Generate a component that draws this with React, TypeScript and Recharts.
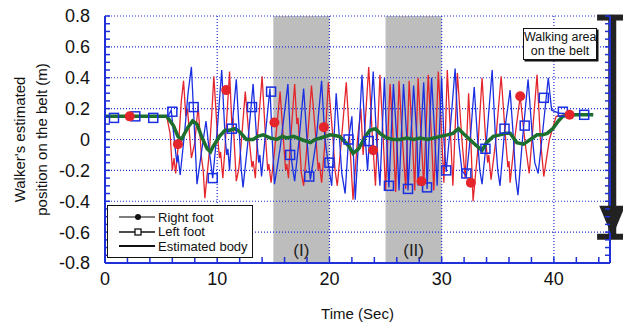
import React from 'react';
import {
  ComposedChart,
  Line,
  Scatter,
  XAxis,
  YAxis,
  ReferenceArea,
  ReferenceLine,
  ReferenceDot,
  Label,
} from 'recharts';

// [time (s), position (m)]
const rightFoot: [number, number][] = [
  [0, 0.15], [5.5, 0.15], [5.8, 0.04], [6.0, -0.2], [6.15, -0.12], [6.3, -0.22], [6.6, 0.02], [6.8, 0.25],
  [7.0, 0.38], [7.2, 0.15], [7.35, 0.2], [7.7, -0.12], [8.0, -0.02], [8.3, 0.22], [8.6, -0.12], [8.75, -0.2],
  [8.9, -0.38], [9.3, -0.08], [9.5, 0.15], [9.7, 0.41], [10.0, 0.05], [10.2, -0.12], [10.3, -0.08], [10.5, -0.25],
  [10.7, -0.05], [11.1, 0.44], [11.3, 0.1], [11.4, 0.14], [11.7, -0.27], [11.9, -0.2], [12.1, -0.06], [12.5, 0.31],
  [12.9, -0.04], [13.1, -0.18], [13.2, -0.14], [13.4, -0.25], [13.6, 0.04], [14.0, 0.41], [14.3, 0.02], [14.5, -0.2],
  [14.6, -0.16], [14.8, -0.28], [15.1, -0.08], [15.6, 0.31], [15.9, 0.0], [16.1, -0.2], [16.2, -0.16], [16.35, -0.25],
  [16.5, -0.04], [16.9, 0.36], [17.1, 0.1], [17.2, 0.14], [17.5, -0.22], [17.7, -0.3], [18.0, -0.04], [18.4, 0.35],
  [18.8, 0.0], [19.0, -0.2], [19.1, -0.15], [19.3, -0.28], [19.6, -0.02], [19.9, 0.37], [20.3, 0.02], [20.5, -0.2],
  [20.7, -0.3], [21.0, -0.06], [21.5, 0.37], [21.8, 0.0], [22.1, -0.39], [22.5, 0.0], [22.8, 0.2], [23.0, -0.1],
  [23.5, 0.47], [23.8, 0.05], [24.1, -0.3], [24.5, 0.42], [24.8, 0.0], [25.0, -0.33], [25.4, 0.36], [25.7, -0.02],
  [25.9, -0.34], [26.2, 0.38], [26.5, 0.0], [26.8, -0.32], [27.1, 0.38], [27.4, 0.0], [27.6, -0.33], [27.9, 0.4],
  [28.2, -0.02], [28.4, -0.3], [28.8, 0.42], [29.1, 0.0], [29.3, -0.33], [29.7, 0.44], [30.0, 0.02], [30.2, -0.28],
  [30.5, 0.45], [30.8, 0.02], [31.0, -0.3], [31.4, 0.43], [31.8, 0.0], [32.1, -0.25], [32.4, 0.3], [32.6, 0.0],
  [32.8, -0.4], [33.2, -0.08], [33.6, 0.4], [33.9, 0.02], [34.1, -0.15], [34.2, -0.1], [34.4, -0.26], [34.8, -0.02],
  [35.3, 0.41], [35.7, 0.0], [35.9, -0.18], [36.0, -0.14], [36.1, -0.28], [36.5, 0.0], [37.0, 0.28], [37.4, 0.0],
  [37.8, -0.22], [38.1, 0.05], [38.5, 0.42], [38.8, 0.0], [39.1, -0.24], [39.6, 0.0], [40.2, 0.15], [41.0, 0.16],
  [43.5, 0.16],
];

const leftFoot: [number, number][] = [
  [0, 0.15], [5.6, 0.15], [5.9, 0.19], [6.2, -0.02], [6.4, -0.15], [6.5, -0.1], [6.7, -0.23], [7.1, 0.05],
  [7.4, 0.3], [7.7, 0.47], [8.0, 0.02], [8.2, -0.29], [8.6, -0.08], [9.0, 0.12], [9.3, -0.08], [9.6, -0.25],
  [10.0, 0.06], [10.4, 0.45], [10.7, 0.02], [10.85, -0.1], [10.95, -0.06], [11.1, -0.2], [11.3, 0.06], [11.7, 0.39],
  [12.0, 0.0], [12.15, -0.2], [12.3, -0.31], [12.7, -0.04], [13.2, 0.36], [13.5, 0.02], [13.7, -0.15], [13.8, -0.1],
  [13.95, -0.24], [14.3, 0.04], [14.7, 0.33], [14.9, 0.0], [15.1, -0.29], [15.3, -0.2], [15.6, -0.06], [16.3, 0.36],
  [16.6, -0.12], [16.75, -0.2], [16.9, -0.27], [17.3, 0.0], [17.7, 0.33], [18.0, 0.0], [18.15, -0.15], [18.3, -0.26],
  [18.8, -0.02], [19.3, 0.38], [19.6, 0.0], [19.9, -0.16], [20.2, -0.3], [20.6, 0.3], [20.9, 0.0], [21.1, -0.22],
  [21.4, -0.35], [21.7, 0.0], [22.0, 0.15], [22.3, -0.39], [22.6, 0.0], [22.9, 0.42], [23.2, 0.0], [23.4, -0.2],
  [23.9, 0.44], [24.2, 0.0], [24.5, -0.3], [24.9, 0.4], [25.1, 0.0], [25.3, -0.31], [25.7, 0.36], [26.0, 0.0],
  [26.2, -0.33], [26.6, 0.36], [26.9, 0.0], [27.0, -0.33], [27.5, 0.35], [27.8, 0.0], [27.9, -0.3], [28.4, 0.37],
  [28.6, 0.0], [28.7, -0.32], [29.1, 0.4], [29.4, 0.0], [29.6, -0.3], [30.0, 0.4], [30.2, 0.0], [30.4, -0.21],
  [30.8, 0.1], [31.2, 0.46], [31.5, 0.0], [31.8, -0.2], [32.2, -0.24], [32.6, 0.05], [32.9, 0.34], [33.2, 0.0],
  [33.4, -0.2], [33.6, -0.29], [34.0, 0.0], [34.5, 0.45], [34.8, 0.0], [35.0, -0.2], [35.2, -0.3], [35.6, 0.05],
  [36.1, 0.32], [36.4, 0.0], [36.6, -0.25], [36.8, -0.36], [37.2, 0.0], [37.7, 0.39], [38.1, 0.0], [38.3, -0.15],
  [38.6, -0.22], [39.0, 0.05], [39.5, 0.4], [39.8, 0.19], [40.5, 0.17], [43.5, 0.16],
];

const estimatedBody: [number, number][] = [
  [0, 0.15], [5.5, 0.15], [6.1, 0.09], [6.5, 0.02], [6.8, 0.0], [7.4, 0.08], [7.8, 0.12], [8.2, 0.1],
  [8.6, 0.02], [9.1, -0.06], [9.4, -0.08], [9.6, -0.05], [10.2, 0.02], [10.7, 0.06], [11.1, 0.06], [11.6, 0.07],
  [12.0, 0.05], [12.6, 0.0], [13.2, 0.0], [13.6, 0.02], [14.1, 0.03], [14.7, 0.01], [15.3, 0.0], [15.8, 0.02],
  [16.2, 0.01], [16.8, 0.02], [17.5, 0.0], [18.3, -0.02], [18.7, 0.0], [19.2, 0.01], [20.1, 0.03], [20.9, 0.02],
  [21.7, -0.04], [22.1, -0.09], [22.6, -0.06], [23.2, 0.02], [23.6, 0.06], [24.1, 0.07], [24.5, 0.04], [25.1, 0.01],
  [25.7, 0.0], [26.3, 0.0], [26.9, 0.01], [27.5, 0.0], [28.1, 0.01], [28.7, 0.0], [29.3, 0.01], [29.9, 0.02],
  [30.5, 0.03], [31.0, 0.04], [31.5, 0.07], [31.9, 0.04], [32.5, 0.0], [33.1, -0.04], [33.6, -0.07], [34.0, -0.02],
  [34.6, 0.02], [35.2, 0.03], [35.7, 0.04], [36.1, 0.04], [36.7, -0.02], [37.3, -0.03], [37.9, 0.0], [38.5, 0.03],
  [39.0, 0.03], [39.4, 0.04], [39.9, 0.07], [40.4, 0.12], [40.8, 0.15], [41.4, 0.16], [43.5, 0.16],
];

const rightFootMarks: [number, number][] = [
  [2.2, 0.15], [6.5, -0.03], [10.8, 0.32], [15.1, 0.11], [19.5, 0.08], [23.9, -0.07],
  [28.2, -0.27], [32.6, -0.28], [37.0, 0.28], [41.4, 0.16],
];

const leftFootMarks: [number, number][] = [
  [0.8, 0.14], [2.7, 0.15], [4.3, 0.14], [6.0, 0.18], [7.9, 0.21], [9.6, -0.25], [11.3, 0.07],
  [13.1, 0.21], [14.8, 0.31], [16.5, -0.1], [18.2, -0.24], [20.0, -0.15], [21.7, 0.0], [23.5, -0.01],
  [25.3, -0.3], [27.0, -0.32], [28.7, -0.31], [30.4, -0.2], [32.2, -0.22], [33.9, -0.06], [35.6, 0.07],
  [37.4, 0.09], [39.1, 0.27], [40.8, 0.18], [42.7, 0.16],
];

const xTicks = [0, 2, 4, 6, 8, 10, 12, 14, 16, 18, 20, 22, 24, 26, 28, 30, 32, 34, 36, 38, 40, 42, 44];
const xGrid = [10, 20, 30, 40];
const yTicks = [
  -0.8, -0.75, -0.7, -0.65, -0.6, -0.55, -0.5, -0.45, -0.4, -0.35, -0.3, -0.25, -0.2, -0.15, -0.1, -0.05, 0,
  0.05, 0.1, 0.15, 0.2, 0.25, 0.3, 0.35, 0.4, 0.45, 0.5, 0.55, 0.6, 0.65, 0.7, 0.75, 0.8,
];
const yGrid = [-0.6, -0.4, -0.2, 0, 0.2, 0.4, 0.6, 0.8];
const phases = [
  { from: 15, to: 20, name: '(I)' },
  { from: 25, to: 30, name: '(II)' },
];
const walkingArea = { x: 45.2, top: 0.79, bottom: -0.63, capFrom: 43.85, capTo: 46.3 };

const toRows = (pts: [number, number][]) => pts.map(([t, v]) => ({ t, v }));

const AXIS = '#1f30d8';
const RED = '#e4262c';
const BLUE = '#1b2fe2';
const GREEN = '#1c6f2c';
const FONT = '"Liberation Sans", Arial, sans-serif';

const XTick = ({ x, y, payload }: any) => {
  const v = payload.value;
  return (
    <g>
      <line x1={x} y1={y} x2={x} y2={y - 6} stroke={AXIS} strokeWidth={1.5} />
      {v % 10 === 0 && (
        <text x={x} y={y + 22} textAnchor="middle" fontSize={18} fill="#111" fontFamily={FONT}>
          {v}
        </text>
      )}
    </g>
  );
};

const fmtY = (v: number) => {
  const s = v.toFixed(1);
  return s === '0.0' || s === '-0.0' ? '0' : s;
};

const YTickLeft = ({ x, y, payload }: any) => {
  const v = payload.value;
  const major = Math.round(v * 100) % 20 === 0;
  return (
    <g>
      <line x1={x} y1={y} x2={x + 5} y2={y} stroke={AXIS} strokeWidth={1.5} />
      {major && (
        <text x={x - 15} y={y} dy="0.36em" textAnchor="end" fontSize={18} fill="#111" fontFamily={FONT}>
          {fmtY(v)}
        </text>
      )}
    </g>
  );
};

const YTickRight = ({ x, y }: any) => (
  <line x1={x} y1={y} x2={x - 5} y2={y} stroke={AXIS} strokeWidth={1.5} />
);

const YTitle = ({ viewBox }: any) => {
  const cy = viewBox.y + viewBox.height / 2;
  return (
    <g fontFamily={FONT} fontSize={15} fill="#111">
      <text x={25} y={cy} textAnchor="middle" transform={`rotate(-90 25 ${cy})`}>
        Walker's estimated
      </text>
      <text x={47} y={cy} textAnchor="middle" transform={`rotate(-90 47 ${cy})`}>
        position on the belt (m)
      </text>
    </g>
  );
};

const Square = ({ cx, cy }: any) => (
  <rect x={cx - 4.5} y={cy - 4.5} width={9} height={9} fill="none" stroke={BLUE} strokeWidth={1.5} />
);

const Dot = ({ cx, cy }: any) => <circle cx={cx} cy={cy} r={5} fill={RED} />;

const ArrowHead = ({ cx, cy }: any) => (
  <polygon points={`${cx - 13},${cy - 31} ${cx + 13},${cy - 31} ${cx},${cy}`} fill="#222" />
);

const LegendRow = ({ kind, text }: { kind: 'dot' | 'square' | 'line'; text: string }) => (
  <div style={{ display: 'flex', alignItems: 'center', height: 14.5, whiteSpace: 'nowrap' }}>
    <svg width={36} height={10} style={{ marginLeft: 11, marginRight: 3, flex: 'none' }}>
      <line x1={0} y1={5} x2={36} y2={5} stroke={kind === 'dot' ? '#555' : '#111'} strokeWidth={kind === 'line' ? 2 : 1.3} />
      {kind === 'dot' && <circle cx={19} cy={5} r={3} fill="#111" />}
      {kind === 'square' && <rect x={16} y={2} width={6} height={6} fill="#fff" stroke="#111" strokeWidth={1.3} />}
    </svg>
    <span>{text}</span>
  </div>
);

export default function App() {
  return (
    <div style={{ position: 'absolute', left: 0, top: 0, width: 623, height: 325, fontFamily: FONT }}>
      <ComposedChart width={623} height={325} margin={{ top: 16, right: 12, left: 0, bottom: 0 }}>
        <XAxis
          dataKey="t"
          type="number"
          domain={[0, 45]}
          ticks={xTicks}
          interval={0}
          tickSize={0}
          tickMargin={0}
          tick={<XTick />}
          height={62}
          axisLine={{ stroke: AXIS, strokeWidth: 2 }}
          allowDataOverflow
        >
          <Label value="Time (Sec)" position="insideBottom" offset={6} fontSize={15} fill="#111" fontFamily={FONT} />
        </XAxis>
        <YAxis
          yAxisId="left"
          dataKey="v"
          type="number"
          domain={[-0.8, 0.8]}
          ticks={yTicks}
          interval={0}
          tickSize={0}
          tickMargin={0}
          tick={<YTickLeft />}
          width={105}
          axisLine={{ stroke: AXIS, strokeWidth: 2 }}
          allowDataOverflow
        >
          <Label content={<YTitle />} />
        </YAxis>
        <YAxis
          yAxisId="right"
          orientation="right"
          type="number"
          domain={[-0.8, 0.8]}
          ticks={yTicks}
          interval={0}
          tickSize={0}
          tickMargin={0}
          tick={<YTickRight />}
          width={1}
          axisLine={{ stroke: AXIS, strokeWidth: 2 }}
          allowDataOverflow
        />

        {phases.map((p) => (
          <ReferenceArea
            key={p.name}
            yAxisId="left"
            x1={p.from}
            x2={p.to}
            y1={-0.8}
            y2={0.8}
            fill="#bdbdbd"
            fillOpacity={1}
            stroke="none"
            label={{ value: p.name, position: 'insideBottom', offset: 7, fontSize: 17, fill: '#222', fontFamily: FONT }}
          />
        ))}
        {xGrid.map((x) => (
          <ReferenceLine key={`gx${x}`} yAxisId="left" x={x} stroke={AXIS} strokeDasharray="1 2" strokeWidth={1.2} />
        ))}
        {yGrid.map((y) => (
          <ReferenceLine key={`gy${y}`} yAxisId="left" y={y} stroke={AXIS} strokeDasharray="1 2" strokeWidth={1.2} />
        ))}

        <Line
          yAxisId="left"
          data={toRows(rightFoot)}
          dataKey="v"
          type="linear"
          stroke={RED}
          strokeWidth={1.3}
          dot={false}
          isAnimationActive={false}
        />
        <Line
          yAxisId="left"
          data={toRows(leftFoot)}
          dataKey="v"
          type="linear"
          stroke={BLUE}
          strokeWidth={1.3}
          dot={false}
          isAnimationActive={false}
        />
        <Line
          yAxisId="left"
          data={toRows(estimatedBody)}
          dataKey="v"
          type="linear"
          stroke={GREEN}
          strokeWidth={3.5}
          dot={false}
          isAnimationActive={false}
        />
        <Scatter yAxisId="left" data={toRows(leftFootMarks)} dataKey="v" shape={<Square />} isAnimationActive={false} />
        <Scatter yAxisId="left" data={toRows(rightFootMarks)} dataKey="v" shape={<Dot />} isAnimationActive={false} />

        <ReferenceLine
          yAxisId="left"
          segment={[{ x: walkingArea.x, y: walkingArea.top }, { x: walkingArea.x, y: walkingArea.bottom }]}
          stroke="#222"
          strokeWidth={8}
          ifOverflow="visible"
        />
        <ReferenceLine
          yAxisId="left"
          segment={[{ x: walkingArea.capFrom, y: walkingArea.top }, { x: walkingArea.capTo, y: walkingArea.top }]}
          stroke="#222"
          strokeWidth={6}
          ifOverflow="visible"
        />
        <ReferenceLine
          yAxisId="left"
          segment={[{ x: walkingArea.capFrom, y: walkingArea.bottom }, { x: walkingArea.capTo, y: walkingArea.bottom }]}
          stroke="#222"
          strokeWidth={6}
          ifOverflow="visible"
        />
        <ReferenceDot
          yAxisId="left"
          x={walkingArea.x}
          y={walkingArea.bottom}
          shape={<ArrowHead />}
          ifOverflow="visible"
        />
      </ComposedChart>

      <div
        style={{
          position: 'absolute',
          left: 107,
          top: 205,
          width: 146,
          height: 53,
          boxSizing: 'border-box',
          border: '1.5px solid #111',
          background: '#fff',
          fontSize: 13,
          color: '#111',
          display: 'flex',
          flexDirection: 'column',
          justifyContent: 'center',
        }}
      >
        <LegendRow kind="dot" text="Right foot" />
        <LegendRow kind="square" text="Left foot" />
        <LegendRow kind="line" text="Estimated body" />
      </div>

      <div
        style={{
          position: 'absolute',
          left: 523,
          top: 28,
          width: 74,
          height: 32,
          boxSizing: 'border-box',
          border: '1px solid #111',
          boxShadow: '1.5px 1.5px 0 #111',
          background: '#fff',
          fontSize: 12.5,
          lineHeight: '14px',
          textAlign: 'center',
          color: '#111',
          paddingTop: 1,
          whiteSpace: 'nowrap',
        }}
      >
        Walking area
        <br />
        on the belt
      </div>
    </div>
  );
}
